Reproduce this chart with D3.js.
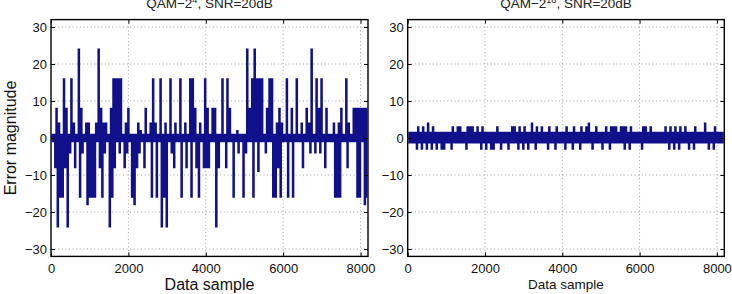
<!DOCTYPE html>
<html>
<head>
<meta charset="utf-8">
<script src="https://cdn.jsdelivr.net/npm/d3@7"></script>
<style>
  html, body { margin: 0; padding: 0; background: #fff; }
  svg { display: block; font-family: "Liberation Sans", Arial, Helvetica, sans-serif; }
</style>
</head>
<body>
<svg id="chart" width="732" height="294"></svg>
<script>
// axis ticks
const xTicks = [0, 2000, 4000, 6000, 8000];
const yTicks = [-30, -20, -10, 0, 10, 20, 30];
const sampleCount = 8192;
const binSize = 64; // samples per read-off column

// QAM-2^4: dense band around zero, then [column, error] peaks and dips
const leftBand = [-1, 1];
const leftPeaks = [
  [2, 8], [3, 4], [5, 16], [6, 8], [8, 16], [9, 4], [11, 24], [12, 8], [14, 4], [15, 4],
  [18, 4], [19, 24], [20, 8], [21, 4], [22, 4], [24, 8], [25, 16], [26, 16], [27, 16], [28, 16],
  [30, 4], [31, 8], [35, 4], [36, 2], [38, 8], [40, 4], [41, 16], [42, 4], [44, 16], [46, 4],
  [48, 16], [50, 4], [52, 16], [54, 4], [56, 16], [57, 16], [58, 8], [60, 4], [62, 16], [63, 8],
  [65, 8], [66, 8], [69, 16], [71, 16], [72, 8], [75, 2], [79, 24], [80, 8], [81, 16], [82, 24],
  [83, 16], [84, 16], [85, 16], [87, 8], [88, 16], [89, 16], [91, 4], [92, 8], [93, 4], [95, 16],
  [97, 8], [99, 16], [101, 4], [103, 8], [104, 4], [105, 24], [107, 16], [108, 8], [109, 16], [111, 8],
  [114, 4], [116, 4], [117, 8], [119, 16], [120, 4], [122, 8], [123, 8], [124, 8], [125, 8], [126, 8],
  [127, 8]
];
const leftDips = [
  [1, -8], [2, -24], [3, -16], [4, -16], [5, -8], [6, -24], [7, -4], [9, -8], [11, -16], [12, -4],
  [14, -18], [15, -16], [16, -16], [17, -16], [19, -8], [20, -16], [21, -4], [23, -24], [24, -16], [25, -8],
  [27, -4], [29, -8], [30, -4], [32, -16], [33, -18], [34, -8], [35, -4], [37, -8], [40, -16], [42, -16],
  [44, -24], [45, -16], [46, -24], [48, -4], [49, -8], [52, -16], [54, -8], [56, -16], [58, -8], [59, -16],
  [61, -8], [62, -8], [63, -8], [66, -24], [67, -8], [70, -8], [73, -16], [75, -4], [77, -16], [78, -4],
  [81, -16], [83, -9], [86, -4], [89, -16], [90, -16], [91, -8], [92, -16], [95, -16], [97, -16], [101, -8],
  [104, -4], [106, -4], [108, -4], [110, -8], [114, -16], [115, -16], [116, -16], [119, -8], [123, -16], [124, -16],
  [126, -18], [127, -16]
];

// QAM-2^16: tight band, few small excursions
const rightBand = [-1.3, 1.5];
const rightPeaks = [
  [4, 3], [6, 3], [8, 4], [10, 3], [18, 3], [20, 3], [21, 3], [24, 3], [25, 3], [26, 3],
  [28, 3], [30, 3], [36, 3], [42, 3], [43, 3], [45, 3], [47, 3], [50, 4], [52, 3], [54, 3],
  [57, 3], [60, 3], [64, 3], [67, 3], [70, 3], [72, 3], [73, 4], [76, 3], [80, 3], [82, 3],
  [83, 3], [84, 3], [86, 3], [87, 3], [88, 3], [90, 3], [95, 3], [96, 3], [98, 3], [104, 3],
  [106, 3], [108, 3], [110, 3], [112, 3], [116, 3], [120, 4], [124, 3]
];
const rightDips = [
  [3, -3], [5, -3], [7, -3], [9, -3], [11, -3], [13, -3], [14, -3], [17, -3], [23, -3], [29, -3],
  [31, -3], [33, -3], [34, -3], [37, -3], [40, -3], [44, -3], [46, -3], [48, -3], [51, -3], [56, -3],
  [59, -3], [63, -3], [66, -3], [69, -3], [74, -3], [78, -3], [81, -3], [87, -3], [89, -3], [94, -3],
  [105, -3], [107, -3], [109, -3], [113, -3], [115, -3], [121, -3], [123, -3]
];

const panels = [
  { id: "l", left: 51, right: 368, title: "QAM\u22122", sup: "4", band: leftBand, peaks: leftPeaks, dips: leftDips,
    xlabel: "Data sample", xlabelSize: 16, xlabelY: 290, ylabel: "Error magnitude" },
  { id: "r", left: 407.7, right: 724.3, title: "QAM\u22122", sup: "16", band: rightBand, peaks: rightPeaks, dips: rightDips,
    xlabel: "Data sample", xlabelSize: 13.5, xlabelY: 289, ylabel: null }
];

const plotTop = 19.6, plotBottom = 256.4;
const lineColor = "#10108a";
const svg = d3.select("#chart");

function buildSeries(band, peaks, dips) {
  const nBins = sampleCount / binSize;
  const hi = d3.range(nBins).map(() => band[1]);
  const lo = d3.range(nBins).map(() => band[0]);
  peaks.forEach(([b, v]) => { hi[b] = v; });
  dips.forEach(([b, v]) => { lo[b] = v; });
  const pts = [];
  for (let i = 0; i < nBins; i++) {
    pts.push({ s: i * binSize + binSize / 4, v: hi[i] });
    pts.push({ s: i * binSize + (3 * binSize) / 4, v: lo[i] });
  }
  return pts;
}

// d3 axes set their own font-size, so restyle after each call
function styleAxis(sel) {
  sel.attr("font-size", 13).attr("font-family", "Liberation Sans, Arial, sans-serif");
  sel.select(".domain").remove();
  sel.selectAll("line").attr("stroke", "#000");
  sel.selectAll("text").attr("fill", "#111");
}

panels.forEach((p) => {
  const x = d3.scaleLinear().domain([0, sampleCount]).range([p.left, p.right]);
  const y = d3.scaleLinear().domain([-32, 32]).range([plotBottom, plotTop]);
  const g = svg.append("g");

  // grid (dotted)
  const grid = g.append("g").attr("stroke", "#8a8a8a").attr("stroke-width", 0.8)
    .attr("stroke-dasharray", "1,2.6");
  grid.selectAll(".vg").data(xTicks.filter((d) => d > 0)).enter().append("line")
    .attr("x1", (d) => x(d)).attr("x2", (d) => x(d))
    .attr("y1", plotTop).attr("y2", plotBottom);
  grid.selectAll(".hg").data(yTicks).enter().append("line")
    .attr("x1", p.left).attr("x2", p.right)
    .attr("y1", (d) => y(d)).attr("y2", (d) => y(d));

  // data
  g.append("clipPath").attr("id", "clip-" + p.id).append("rect")
    .attr("x", p.left).attr("y", plotTop).attr("width", p.right - p.left).attr("height", plotBottom - plotTop);
  const line = d3.line().x((d) => x(d.s)).y((d) => y(d.v)).curve(d3.curveStep);
  g.append("path")
    .datum(buildSeries(p.band, p.peaks, p.dips))
    .attr("clip-path", "url(#clip-" + p.id + ")")
    .attr("fill", "none")
    .attr("stroke", lineColor)
    .attr("stroke-width", 1.3)
    .attr("d", line);

  // axes with inward ticks
  const fmt = d3.format("d");
  g.append("g").attr("transform", "translate(0," + plotBottom + ")")
    .call(d3.axisBottom(x).tickValues(xTicks).tickFormat(fmt).tickSizeInner(-4).tickSizeOuter(0).tickPadding(7))
    .call(styleAxis);
  g.append("g").attr("transform", "translate(0," + plotTop + ")")
    .call(d3.axisTop(x).tickValues(xTicks).tickSizeInner(-4).tickSizeOuter(0).tickFormat(""))
    .call(styleAxis);
  g.append("g").attr("transform", "translate(" + p.left + ",0)")
    .call(d3.axisLeft(y).tickValues(yTicks).tickSizeInner(-4).tickSizeOuter(0).tickPadding(4))
    .call(styleAxis);
  g.append("g").attr("transform", "translate(" + p.right + ",0)")
    .call(d3.axisRight(y).tickValues(yTicks).tickSizeInner(-4).tickSizeOuter(0).tickFormat(""))
    .call(styleAxis);

  // box
  g.append("rect")
    .attr("x", p.left).attr("y", plotTop)
    .attr("width", p.right - p.left).attr("height", plotBottom - plotTop)
    .attr("fill", "none").attr("stroke", "#000").attr("stroke-width", 1.4);

  // title with superscript
  const t = g.append("text")
    .attr("x", (p.left + p.right) / 2).attr("y", 8)
    .attr("text-anchor", "middle").attr("font-size", 13.5).attr("fill", "#222");
  t.append("tspan").text(p.title);
  t.append("tspan").attr("dy", -5).attr("font-size", 9).text(p.sup);
  t.append("tspan").attr("dy", 5).text(", SNR=20dB");

  // x label
  g.append("text")
    .attr("x", (p.left + p.right) / 2).attr("y", p.xlabelY)
    .attr("text-anchor", "middle").attr("font-size", p.xlabelSize).attr("fill", "#111")
    .text(p.xlabel);

  if (p.ylabel) {
    g.append("text")
      .attr("transform", "translate(16," + (plotTop + plotBottom) / 2 + ") rotate(-90)")
      .attr("text-anchor", "middle").attr("font-size", 16).attr("fill", "#111")
      .text(p.ylabel);
  }
});
</script>
</body>
</html>
